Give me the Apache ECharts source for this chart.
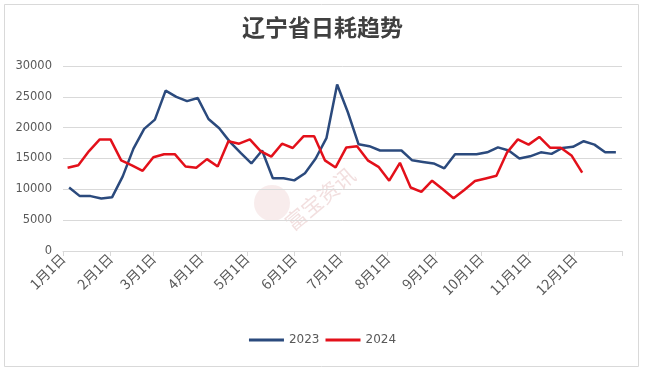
<!DOCTYPE html>
<html>
<head>
<meta charset="utf-8">
<script src="https://cdn.jsdelivr.net/npm/echarts@6/dist/echarts.min.js"></script>
<style>html,body{margin:0;padding:0;background:#fff}#c{width:645px;height:369px}</style>
</head>
<body>
<div id="c"></div>
<script>
var titleText = '辽宁省日耗趋势';
var seriesNames = ['2023', '2024'];
var dates2023 = ['2023-01-05','2023-01-12','2023-01-19','2023-01-26','2023-02-02','2023-02-09','2023-02-16','2023-02-23','2023-03-02','2023-03-09','2023-03-16','2023-03-23','2023-03-30','2023-04-06','2023-04-13','2023-04-20','2023-04-27','2023-05-04','2023-05-11','2023-05-18','2023-05-25','2023-06-01','2023-06-08','2023-06-15','2023-06-22','2023-06-29','2023-07-06','2023-07-13','2023-07-20','2023-07-27','2023-08-03','2023-08-10','2023-08-17','2023-08-24','2023-08-31','2023-09-07','2023-09-14','2023-09-21','2023-09-28','2023-10-05','2023-10-12','2023-10-19','2023-10-26','2023-11-02','2023-11-09','2023-11-16','2023-11-23','2023-11-30','2023-12-07','2023-12-14','2023-12-21','2023-12-28'];
var values2023 = [10300,8900,8900,8500,8700,12100,16600,19800,21300,26000,25000,24300,24800,21400,19900,17700,15900,14200,16300,11800,11800,11450,12600,15000,18300,27000,22500,17300,17000,16300,16300,16300,14700,14450,14200,13400,15700,15700,15700,16000,16800,16300,15000,15350,16000,15750,16700,16900,17800,17250,16000,16000];
var dates2024 = ['2024-01-04','2024-01-11','2024-01-18','2024-01-25','2024-02-01','2024-02-08','2024-02-15','2024-02-22','2024-02-29','2024-03-07','2024-03-14','2024-03-21','2024-03-28','2024-04-04','2024-04-11','2024-04-18','2024-04-25','2024-05-02','2024-05-09','2024-05-16','2024-05-23','2024-05-30','2024-06-06','2024-06-13','2024-06-20','2024-06-27','2024-07-04','2024-07-11','2024-07-18','2024-07-25','2024-08-01','2024-08-08','2024-08-15','2024-08-22','2024-08-29','2024-09-05','2024-09-12','2024-09-19','2024-09-26','2024-10-03','2024-10-10','2024-10-17','2024-10-24','2024-10-31','2024-11-07','2024-11-14','2024-11-21','2024-11-28','2024-12-05'];
var values2024 = [13500,13900,16200,18100,18100,14700,13900,13000,15200,15700,15700,13700,13500,14900,13700,17800,17400,18100,16200,15300,17400,16700,18600,18600,14700,13550,16800,17000,14700,13650,11400,14300,10300,9600,11400,10000,8550,9900,11340,11770,12200,16000,18100,17250,18500,16750,16750,15500,12700];
var monthStartDays = [0,31,59,90,120,151,181,212,243,273,304,334,365];
var monthLabels = ['1月1日','2月1日','3月1日','4月1日','5月1日','6月1日','7月1日','8月1日','9月1日','10月1日','11月1日','12月1日'];
var yTicks = [0,5000,10000,15000,20000,25000,30000];
var watermarkText = '富宝资讯';

function dayOfYear(s) {
  var p = s.split('-').map(Number);
  return (Date.UTC(p[0], p[1]-1, p[2]) - Date.UTC(p[0], 0, 1)) / 86400000;
}
function pairs(ds, vs) { return ds.map(function (d, i) { return [dayOfYear(d), vs[i]]; }); }

var chart = echarts.init(document.getElementById('c'), null, {renderer: 'canvas'});
chart.setOption({
  animation: false,
  backgroundColor: '#fff',
  title: {
    text: titleText, left: 'center', top: 11,
    textStyle: {fontFamily: 'Noto Sans CJK SC', fontSize: 23, fontWeight: 'bold', color: '#404040'}
  },
  legend: {
    bottom: 18, left: 'center',
    icon: 'rect', itemWidth: 35, itemHeight: 3, itemGap: 6,
    textStyle: {fontFamily: 'DejaVu Sans', fontSize: 12, color: '#595959'},
    data: seriesNames
  },
  grid: {left: 63, right: 23, top: 66, bottom: 118, containLabel: false},
  xAxis: {
    type: 'value', min: monthStartDays[0], max: monthStartDays[monthStartDays.length-1],
    splitLine: {show: false},
    axisLine: {show: true, lineStyle: {color: '#D9D9D9', width: 1}},
    axisTick: {show: true, length: 5, lineStyle: {color: '#D9D9D9'}, customValues: monthStartDays},
    axisLabel: {
      customValues: monthStartDays.slice(0, monthLabels.length),
      rotate: 45, margin: 5,
      fontFamily: 'Noto Sans CJK SC', fontSize: 14, color: '#595959',
      formatter: function (v) { var i = monthStartDays.indexOf(v); return i >= 0 && i < monthLabels.length ? monthLabels[i] : ''; }
    }
  },
  yAxis: {
    type: 'value', min: yTicks[0], max: yTicks[yTicks.length-1], interval: yTicks[1]-yTicks[0],
    axisLine: {show: false}, axisTick: {show: false},
    splitLine: {lineStyle: {color: '#D9D9D9', width: 1}},
    axisLabel: {fontFamily: 'DejaVu Sans', fontSize: 11.5, color: '#595959', margin: 11,
      formatter: function (v) { return String(v); }}
  },
  graphic: [
    {type: 'rect', left: 2, top: 2, shape: {width: 634, height: 362}, style: {fill: 'none', stroke: '#D9D9D9', lineWidth: 1}, silent: true, z: -1},
    {type: 'circle', shape: {cx: 272, cy: 203, r: 18}, style: {fill: 'rgba(215,150,150,0.18)'}, silent: true, z: 0},
    {type: 'text', x: 320, y: 199, rotation: Math.PI*40/180, originX: 0, originY: 0,
     style: {text: watermarkText, fontFamily: 'Noto Sans CJK SC', fontSize: 21, fill: 'rgba(210,140,140,0.28)', align: 'center', verticalAlign: 'middle'}, silent: true, z: 0}
  ],
  series: [
    {name: seriesNames[0], type: 'line', data: pairs(dates2023, values2023), symbol: 'none', lineStyle: {width: 2.5, color: '#2B4A7D'}, itemStyle: {color: '#2B4A7D'}, z: 3},
    {name: seriesNames[1], type: 'line', data: pairs(dates2024, values2024), symbol: 'none', lineStyle: {width: 2.5, color: '#E3101A'}, itemStyle: {color: '#E3101A'}, z: 4}
  ]
});
</script>
</body>
</html>
